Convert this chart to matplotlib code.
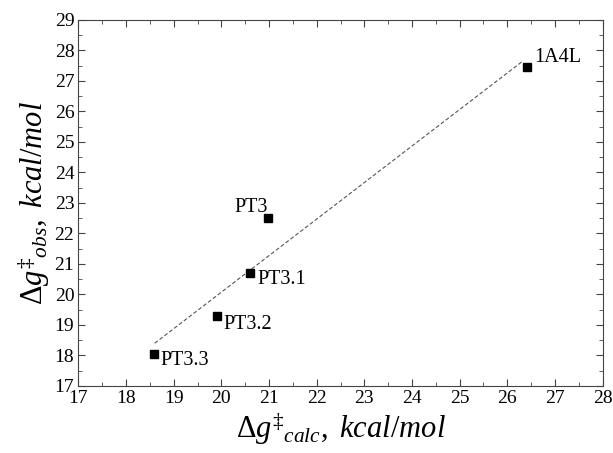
import matplotlib
matplotlib.use("Agg")
import matplotlib.pyplot as plt
from matplotlib.ticker import MultipleLocator

# data
names = ["1A4L", "PT3", "PT3.1", "PT3.2", "PT3.3"]
dg_calc = [26.41, 20.97, 20.61, 19.91, 18.58]
dg_obs = [27.45, 22.51, 20.71, 19.29, 18.06]
fit_x = [18.6, 26.3]
fit_y = [18.4, 27.62]

# label offsets (points) and alignment
label_off = {"1A4L": (5.5, 7, "left"), "PT3": (0, 7.5, "right"), "PT3.1": (5, -5, "left"),
             "PT3.2": (4.5, -6, "left"), "PT3.3": (4.5, -5, "left")}

plt.rcParams["font.family"] = ["Liberation Serif", "DejaVu Serif"]
plt.rcParams["mathtext.fontset"] = "custom"
plt.rcParams["mathtext.rm"] = "Liberation Serif"
plt.rcParams["mathtext.it"] = "Liberation Serif:italic"

fig = plt.figure(figsize=(6.13, 4.53), dpi=100)
ax = fig.add_axes([0.128, 0.148, 0.855, 0.808])

ax.plot(fit_x, fit_y, color="#555555", lw=0.8, dashes=(3.5, 2))
ax.plot(dg_calc, dg_obs, "s", color="black", markersize=5.5)

for n, x, y in zip(names, dg_calc, dg_obs):
    dx, dy, ha = label_off[n]
    ax.annotate(n, (x, y), xytext=(dx, dy), textcoords="offset points",
                ha=ha, va="center", fontsize=14.5)

ax.set_xlim(17, 28)
ax.set_ylim(17, 29)
ax.xaxis.set_major_locator(MultipleLocator(1))
ax.yaxis.set_major_locator(MultipleLocator(1))
ax.xaxis.set_minor_locator(MultipleLocator(0.5))
ax.yaxis.set_minor_locator(MultipleLocator(0.5))
ax.tick_params(which="both", direction="in", top=True, right=True, labelsize=14,
               color="#444444", pad=3)
ax.tick_params(which="major", length=5)
ax.tick_params(which="minor", length=2.8)
for s in ax.spines.values():
    s.set_color("#444444")

ax.set_xlabel(r"$\Delta g^{\ddagger}{}_{calc},\ kcal/mol$", fontsize=22, labelpad=2)
ax.set_ylabel(r"$\Delta g^{\ddagger}{}_{obs},\ kcal/mol$", fontsize=22, labelpad=2)

fig.savefig("out.png", dpi=100)
